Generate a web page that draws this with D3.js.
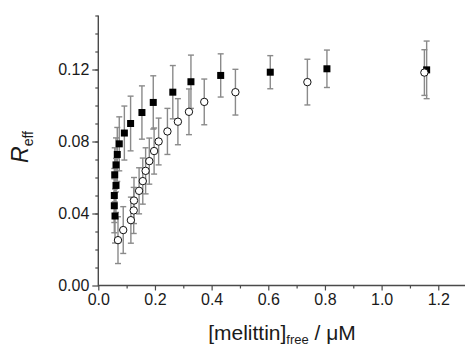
<!DOCTYPE html>
<html>
<head>
<meta charset="utf-8">
<script src="https://cdn.jsdelivr.net/npm/d3@7"></script>
<style>
  body { margin: 0; background: #fff; }
  text { font-family: 'Liberation Sans', Arial, sans-serif; }
</style>
</head>
<body>
<svg id="chart"></svg>
<script>
const width = 465;
const height = 346;

// data -----------------------------------
const filledX = [0.059, 0.0565, 0.0565, 0.0625, 0.058, 0.0625, 0.067, 0.074, 0.092, 0.114,
  0.154, 0.194, 0.263, 0.327, 0.432, 0.607, 0.807, 1.159];
const filledY = [0.0386, 0.0443, 0.050, 0.0556, 0.0615, 0.067, 0.0728, 0.0787, 0.0847, 0.090,
  0.0961, 0.1017, 0.1074, 0.1132, 0.1167, 0.1185, 0.1204, 0.1198];
const filledErr = [0.015, 0.015, 0.015, 0.015, 0.015, 0.015, 0.015, 0.015, 0.015, 0.0152,
  0.0148, 0.0148, 0.0148, 0.0148, 0.012, 0.0092, 0.0104, 0.016];

const openX = [0.0695, 0.088, 0.115, 0.125, 0.126, 0.144, 0.157, 0.167, 0.180, 0.197,
  0.213, 0.244, 0.281, 0.320, 0.374, 0.484, 0.738, 1.151];
const openY = [0.0252, 0.0308, 0.0363, 0.0417, 0.0472, 0.0526, 0.058, 0.0637, 0.0691, 0.0747,
  0.080, 0.0856, 0.091, 0.0965, 0.102, 0.1074, 0.113, 0.1183];
const openErr = [0.013, 0.013, 0.0128, 0.0128, 0.0128, 0.0128, 0.0128, 0.0128, 0.0128, 0.0128,
  0.013, 0.0128, 0.0128, 0.0127, 0.0127, 0.0127, 0.0127, 0.0127];

const xTicks = [0, 0.2, 0.4, 0.6, 0.8, 1.0, 1.2];
const yTicks = [0, 0.04, 0.08, 0.12];
// ----------------------------------------

const svg = d3.select('#chart').attr('width', width).attr('height', height);

const xScale = d3.scaleLinear().domain([0, 1.3]).range([98.3, 466.6]);
const yScale = d3.scaleLinear().domain([0, 0.15]).range([285.5, 15.5]);

const toRows = (xs, ys, es) => xs.map((x, i) => ({ x, y: ys[i], e: es[i] }));
const filled = toRows(filledX, filledY, filledErr);
const open = toRows(openX, openY, openErr);

// axes -----------------------------------
const axisColor = '#4a4a4a';

const xMinor = svg.append('g')
  .attr('transform', `translate(0, ${yScale(0)})`)
  .call(d3.axisBottom(xScale).tickValues(d3.range(0.1, 1.3, 0.2)).tickSize(3).tickFormat(''));
const xAxis = svg.append('g')
  .attr('transform', `translate(0, ${yScale(0)})`)
  .call(d3.axisBottom(xScale).tickValues(xTicks).tickSize(5).tickSizeOuter(0)
    .tickPadding(3).tickFormat(d3.format('.1f')));

const yMinor = svg.append('g')
  .attr('transform', `translate(${xScale(0)}, 0)`)
  .call(d3.axisLeft(yScale).tickValues(d3.range(0.01, 0.155, 0.01)).tickSize(3).tickFormat(''));
const yAxis = svg.append('g')
  .attr('transform', `translate(${xScale(0)}, 0)`)
  .call(d3.axisLeft(yScale).tickValues(yTicks).tickSize(6).tickSizeOuter(0)
    .tickPadding(3).tickFormat(d3.format('.2f')));

[xMinor, xAxis, yMinor, yAxis].forEach(g => {
  g.select('.domain').remove();
  g.selectAll('line').attr('stroke', axisColor).attr('stroke-width', 1.2);
  g.selectAll('text').attr('fill', '#1a1a1a').style('font-size', '16px')
    .style('font-family', "'Liberation Sans', Arial, sans-serif");
});

svg.append('line')
  .attr('x1', xScale(0)).attr('x2', xScale(1.3))
  .attr('y1', yScale(0)).attr('y2', yScale(0))
  .attr('stroke', axisColor).attr('stroke-width', 1.4);
svg.append('line')
  .attr('x1', xScale(0)).attr('x2', xScale(0))
  .attr('y1', yScale(0) + 0.7).attr('y2', yScale(0.15))
  .attr('stroke', axisColor).attr('stroke-width', 1.4);

// axis labels
const xLabel = svg.append('text')
  .attr('x', 282).attr('y', 340)
  .attr('text-anchor', 'middle')
  .attr('fill', '#1a1a1a')
  .style('font-size', '21px');
xLabel.append('tspan').text('[melittin]');
xLabel.append('tspan').attr('dy', 4).style('font-size', '13px').text('free');
xLabel.append('tspan').attr('dy', -4).text(' / μM');

const yLabel = svg.append('text')
  .attr('transform', 'translate(28, 147) rotate(-90)')
  .attr('text-anchor', 'middle')
  .attr('fill', '#1a1a1a')
  .style('font-size', '23px');
yLabel.append('tspan').style('font-style', 'italic').text('R');
yLabel.append('tspan').attr('dy', 5).style('font-size', '14px').text('eff');
// ----------------------------------------

// error bars -----------------------------
const drawErrors = rows => {
  const g = svg.append('g')
    .attr('stroke', '#8a8a8a')
    .attr('stroke-width', 1.4);
  rows.forEach(d => {
    const cx = xScale(d.x);
    const top = yScale(d.y + d.e);
    const bottom = yScale(d.y - d.e);
    g.append('line').attr('x1', cx).attr('x2', cx).attr('y1', top).attr('y2', bottom);
    g.append('line').attr('x1', cx - 3).attr('x2', cx + 3).attr('y1', top).attr('y2', top);
    g.append('line').attr('x1', cx - 3).attr('x2', cx + 3).attr('y1', bottom).attr('y2', bottom);
  });
};
drawErrors(filled);
drawErrors(open);

// markers
const squareSize = 7;
svg.append('g')
  .selectAll('rect')
  .data(filled)
  .enter()
  .append('rect')
    .attr('x', d => xScale(d.x) - squareSize / 2)
    .attr('y', d => yScale(d.y) - squareSize / 2)
    .attr('width', squareSize)
    .attr('height', squareSize)
    .attr('fill', '#000');

svg.append('g')
  .selectAll('circle')
  .data(open)
  .enter()
  .append('circle')
    .attr('cx', d => xScale(d.x))
    .attr('cy', d => yScale(d.y))
    .attr('r', 3.7)
    .attr('fill', '#fff')
    .attr('stroke', '#111')
    .attr('stroke-width', 1);
</script>
</body>
</html>
